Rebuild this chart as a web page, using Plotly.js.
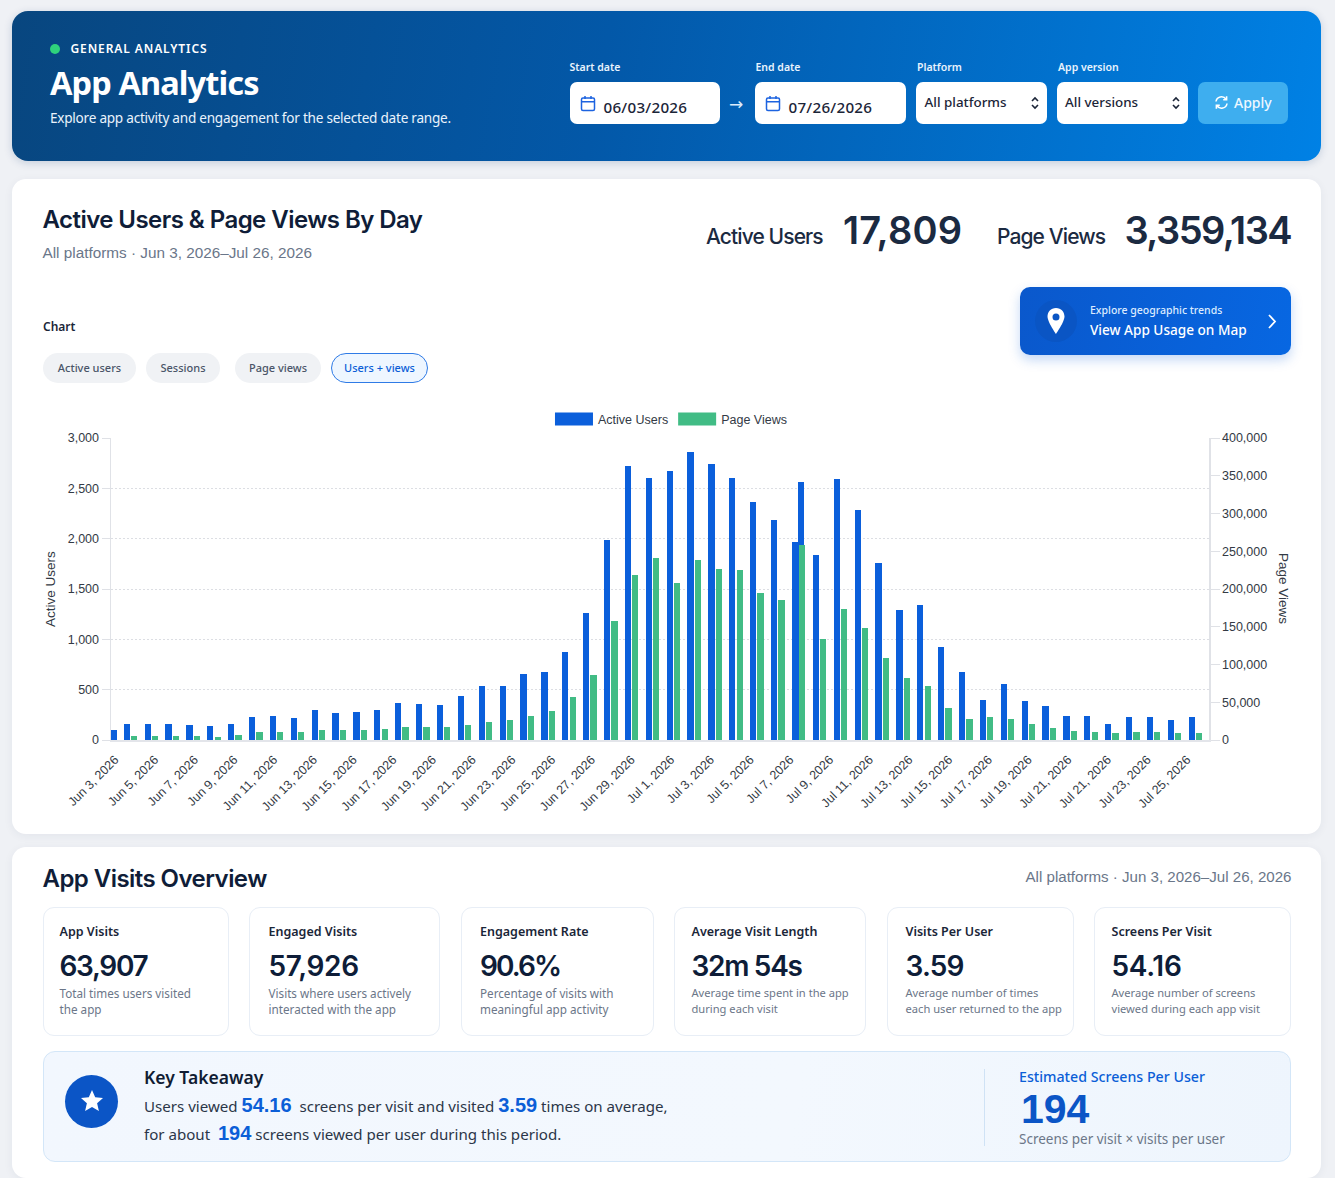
<!DOCTYPE html>
<html lang="en">
<head>
<meta charset="utf-8">
<title>App Analytics</title>
<script src="https://cdn.plot.ly/plotly-3.0.1.min.js"></script>
<style>
*{box-sizing:border-box}
html,body{margin:0;padding:0}
body{width:1335px;height:1178px;overflow:hidden;background:#eff1f5;position:relative;font-family:"Noto Sans",sans-serif;color:#10203c}
.abs,.abs-t{position:absolute;white-space:nowrap}
.abs-t{line-height:1;transform:translateY(-50%)}
.panel{position:absolute;left:12px;width:1309px;background:#fff;border-radius:14px;box-shadow:0 2px 10px rgba(30,50,90,.06)}
.hero{position:absolute;left:12px;top:11px;width:1309px;height:150px;border-radius:16px;background:linear-gradient(100deg,#08467f 0%,#0358a8 45%,#0081e5 100%);box-shadow:0 2px 8px rgba(10,50,110,.18)}
.w{color:#fff}
.fl{font-size:10.5px;font-weight:600;color:#e9f3fd}
.inp{position:absolute;top:81.5px;height:42.5px;background:#fff;border-radius:7px}
.inp-t{font-family:"Noto Sans";font-size:13.4px;color:#1b2538;font-weight:500}
.date-t{font-size:15.2px;letter-spacing:.25px}
.pill{position:absolute;top:353px;height:30px;padding-bottom:2px;border-radius:15px;background:#f0f2f5;color:#4a5568;font-size:11px;font-weight:500;display:flex;align-items:center;justify-content:center}
.pill.on{background:#eef6ff;border:1.5px solid #2f7be6;color:#0b5ed7}
.stat{position:absolute;top:907px;height:129px;border:1.5px solid #e8eef6;border-radius:11px;background:#fff}
.stat .l{position:absolute;top:15px;font-size:12.5px;font-weight:600;color:#1a2638;white-space:nowrap}
.stat .v{position:absolute;top:41px;font-family:Inter;font-size:28px;font-weight:600;color:#0e1d38;white-space:nowrap;letter-spacing:-.3px}
.stat .d{position:absolute;top:77px;font-size:11.7px;line-height:16px;color:#6b7688;white-space:nowrap}
.sans{font-family:"Liberation Sans",sans-serif}
.bl{color:#0b5ed7;font-weight:700;font-size:20px}
#chart{position:absolute;left:0;top:380px;width:1335px;height:450px}
</style>
</head>
<body>
<div class="hero"></div>
<div class="abs" style="left:50px;top:44px;width:10px;height:10px;border-radius:50%;background:#2fd27c"></div>
<div class="abs-t w" style="left:70.5px;top:49px;font-size:12px;font-weight:600;letter-spacing:.9px">GENERAL ANALYTICS</div>
<div class="abs-t w" style="left:50px;top:82.5px;font-family:'Noto Sans';font-size:32.5px;font-weight:700;letter-spacing:-.9px">App Analytics</div>
<div class="abs-t" style="left:50px;top:117.5px;font-size:13.6px;color:#eaf3fc;letter-spacing:-.25px">Explore app activity and engagement for the selected date range.</div>

<div class="abs-t fl" style="left:569.5px;top:66.5px">Start date</div>
<div class="inp" style="left:569.5px;width:150.5px"></div>
<svg class="abs" style="left:580px;top:95px" width="16" height="17" viewBox="0 0 16 17" fill="none" stroke="#1d63e0" stroke-width="1.5"><rect x="1.5" y="3" width="13" height="12.5" rx="1.5"/><path d="M1.5 6.8H14.5M5 1v3M11 1v3"/></svg>
<div class="abs-t inp-t date-t" style="left:603.5px;top:107.5px">06/03/2026</div>
<div class="abs-t" style="left:729px;top:104px;font-size:17px;color:#dcecfb;font-family:'DejaVu Sans'">→</div>
<div class="abs-t fl" style="left:755.5px;top:66.5px">End date</div>
<div class="inp" style="left:755px;width:150.5px"></div>
<svg class="abs" style="left:765px;top:95px" width="16" height="17" viewBox="0 0 16 17" fill="none" stroke="#1d63e0" stroke-width="1.5"><rect x="1.5" y="3" width="13" height="12.5" rx="1.5"/><path d="M1.5 6.8H14.5M5 1v3M11 1v3"/></svg>
<div class="abs-t inp-t date-t" style="left:788.5px;top:107.5px">07/26/2026</div>
<div class="abs-t fl" style="left:917px;top:66.5px">Platform</div>
<div class="inp" style="left:916px;width:131px"></div>
<div class="abs-t inp-t" style="left:924.5px;top:102.5px">All platforms</div>
<svg class="abs" style="left:1030px;top:96px" width="10" height="14" viewBox="0 0 10 14" fill="none" stroke="#1b2538" stroke-width="1.6"><path d="M2 5 5 2l3 3M2 9l3 3 3-3"/></svg>
<div class="abs-t fl" style="left:1058px;top:66.5px">App version</div>
<div class="inp" style="left:1056.5px;width:131.5px"></div>
<div class="abs-t inp-t" style="left:1065px;top:102.5px">All versions</div>
<svg class="abs" style="left:1171px;top:96px" width="10" height="14" viewBox="0 0 10 14" fill="none" stroke="#1b2538" stroke-width="1.6"><path d="M2 5 5 2l3 3M2 9l3 3 3-3"/></svg>
<div class="abs" style="left:1198px;top:81.5px;width:90px;height:42.5px;border-radius:7px;background:#3eaeef"></div>
<svg class="abs" style="left:1213.5px;top:95px" width="15" height="15" viewBox="0 0 15 15" fill="none" stroke="#fff" stroke-width="1.6"><path d="M2 6.5A5.5 5.5 0 0 1 12 4.2M13 8.5A5.5 5.5 0 0 1 3 10.8"/><path d="M12.6 1.3v3.4H9.2M2.4 13.7v-3.4h3.4"/></svg>
<div class="abs-t" style="left:1234px;top:102.5px;font-size:14px;font-weight:500;color:#eef8ff">Apply</div>

<div class="panel" style="top:179px;height:655px"></div>
<div class="abs-t" style="left:42.5px;top:220px;font-family:Inter;font-size:24px;font-weight:600;letter-spacing:-.55px;color:#0f1d38">Active Users &amp; Page Views By Day</div>
<div class="abs-t sans" style="left:42.5px;top:252.5px;font-size:15.3px;color:#6a7689">All platforms · Jun 3, 2026–Jul 26, 2026</div>
<div class="abs-t" style="left:706px;top:236px;font-family:Inter;font-size:21px;font-weight:500;letter-spacing:-.9px;color:#1b2a41">Active Users</div>
<div class="abs-t" style="left:843px;top:229.5px;font-family:Inter;font-size:38px;font-weight:600;letter-spacing:.2px;color:#1b2a41">17,809</div>
<div class="abs-t" style="left:997px;top:236px;font-family:Inter;font-size:21px;font-weight:500;letter-spacing:-.9px;color:#1b2a41">Page Views</div>
<div class="abs-t" style="left:1124.5px;top:229.5px;font-family:Inter;font-size:38px;font-weight:600;letter-spacing:-1.5px;color:#1b2a41">3,359,134</div>

<div class="abs" style="left:1020px;top:287px;width:271px;height:68px;border-radius:10px;background:linear-gradient(100deg,#0a58cc,#0767e2);box-shadow:0 5px 12px rgba(20,100,220,.25)"></div>
<div class="abs" style="left:1035px;top:300px;width:42px;height:42px;border-radius:50%;background:#0a55c4"></div>
<svg class="abs" style="left:1046px;top:307px" width="20" height="28" viewBox="0 0 20 28"><path fill-rule="evenodd" fill="#fff" d="M10 1C4.8 1 1.5 4.9 1.5 9.6 1.5 15 10 27 10 27s8.500-12 8.500-17.400C18.500 4.900 15.200 1 10 1Zm0 5.500a3.500 3.500 0 1 1 0 7 3.500 3.500 0 0 1 0-7Z"/></svg>
<div class="abs-t" style="left:1090px;top:309.500px;font-size:10.5px;font-weight:500;color:#dcebff">Explore geographic trends</div>
<div class="abs-t" style="left:1090px;top:329.5px;font-size:13.6px;font-weight:500;color:#fff">View App Usage on Map</div>
<svg class="abs" style="left:1266px;top:313px" width="12" height="17" viewBox="0 0 12 17" fill="none" stroke="#fff" stroke-width="1.800"><path d="M3 2l6 6.500-6 6.500"/></svg>

<div class="abs-t" style="left:43px;top:327px;font-size:12px;font-weight:600;color:#1a2638">Chart</div>
<div class="pill" style="left:43px;width:93px">Active users</div>
<div class="pill" style="left:146px;width:74px">Sessions</div>
<div class="pill" style="left:235px;width:86px">Page views</div>
<div class="pill on" style="left:331px;width:97px">Users + views</div>

<div id="chart"></div>

<div class="panel" style="top:847px;height:331px"></div>
<div class="abs-t" style="left:42.5px;top:878.500px;font-family:Inter;font-size:24px;font-weight:600;letter-spacing:-.55px;color:#0f1d38">App Visits Overview</div>
<div class="abs-t sans" style="right:43.500px;top:876.500px;font-size:15.1px;color:#6a7689">All platforms · Jun 3, 2026–Jul 26, 2026</div>

<div class="stat" style="left:43px;width:186px"><div class="l" style="left:15.500px">App Visits</div><div class="v" style="left:15.500px;letter-spacing:-1.3px">63,907</div><div class="d" style="left:15.500px">Total times users visited<br>the app</div></div>
<div class="stat" style="left:249px;width:191px"><div class="l" style="left:18.500px">Engaged Visits</div><div class="v" style="left:18.500px">57,926</div><div class="d" style="left:18.500px">Visits where users actively<br>interacted with the app</div></div>
<div class="stat" style="left:460.500px;width:193px"><div class="l" style="left:18.500px">Engagement Rate</div><div class="v" style="left:18.500px;letter-spacing:-1.9px">90.6%</div><div class="d" style="left:18.500px">Percentage of visits with<br>meaningful app activity</div></div>
<div class="stat" style="left:674px;width:192px"><div class="l" style="left:16.500px">Average Visit Length</div><div class="v" style="left:16.500px;letter-spacing:-1.3px">32m 54s</div><div class="d" style="left:16.500px;font-size:11.15px">Average time spent in the app<br>during each visit</div></div>
<div class="stat" style="left:887px;width:187px"><div class="l" style="left:17.500px">Visits Per User</div><div class="v" style="left:17.500px;letter-spacing:-.8px">3.59</div><div class="d" style="left:17.500px;font-size:11.15px">Average number of times<br>each user returned to the app</div></div>
<div class="stat" style="left:1094px;width:197px"><div class="l" style="left:16.500px">Screens Per Visit</div><div class="v" style="left:16.500px">54.16</div><div class="d" style="left:16.500px;font-size:11.15px">Average number of screens<br>viewed during each app visit</div></div>

<div class="abs" style="left:43px;top:1051px;width:1248px;height:111px;border-radius:12px;background:linear-gradient(100deg,#f2f7fe,#f3f8fe 60%,#eef5fd);border:1.500px solid #d3e6f8"></div>
<div class="abs" style="left:65px;top:1074.500px;width:53px;height:53px;border-radius:50%;background:#0b55c6"></div>
<svg class="abs" style="left:80px;top:1089px" width="24" height="23" viewBox="0 0 24 23"><path fill="#fff" d="M12 1l3.200 7.300 7.800.7-5.900 5.200 1.800 7.800L12 18l-6.900 4 1.800-7.800L1 9l7.800-.7Z"/></svg>
<div class="abs-t" style="left:144px;top:1078px;font-size:17.5px;font-weight:600;color:#101c33">Key Takeaway</div>
<div class="abs-t" style="left:144px;top:1104.500px;font-size:15.1px;color:#2b3648">Users viewed <span class="bl sans">54.16</span>&nbsp; screens per visit and visited <span class="bl sans">3.59</span> times on average,</div>
<div class="abs-t" style="left:144px;top:1132.500px;font-size:15.1px;color:#2b3648">for about &nbsp;<span class="bl sans">194</span> screens viewed per user during this period.</div>
<div class="abs" style="left:984px;top:1069px;width:1px;height:77px;background:#cfe2f5"></div>
<div class="abs-t" style="left:1019px;top:1077px;font-size:14.2px;font-weight:500;color:#0b5ed7">Estimated Screens Per User</div>
<div class="abs-t sans" style="left:1021px;top:1108.500px;font-size:41px;font-weight:700;color:#0b55c6">194</div>
<div class="abs-t" style="left:1019px;top:1139.5px;font-size:13.5px;color:#6b7688">Screens per visit × visits per user</div>

<script>
// One entry per drawn bar. The source draws an extra Active Users bar in slot 33.
const activeUserSlots = [0,1,2,3,4,5,6,7,8,9,10,11,12,13,14,15,16,17,18,19,20,21,22,23,24,25,26,27,28,29,30,31,32,33,33,34,35,36,37,38,39,40,41,42,43,44,45,46,47,48,49,50,51,52];
const activeUsers = [100,160,155,159,146,142,162,231,235,222,301,265,278,294,364,354,347,440,532,536,655,671,876,1263,1987,2718,2599,2672,2857,2741,2606,2368,2189,1968,2563,1842,2593,2285,1763,1290,1346,926,671,400,552,387,341,241,235,155,228,225,202,225];
const pageViewSlots = [1,2,3,4,5,6,7,8,9,10,11,12,13,14,15,16,17,18,19,20,21,22,23,24,25,26,27,28,29,30,31,32,33,34,35,36,37,38,39,40,41,42,43,44,45,46,47,48,49,50,51,52];
const pageViews = [5300,5300,5300,4850,4400,6200,10100,10600,10100,13200,12800,13200,14100,16800,16800,17200,19400,23400,26500,32200,37900,56900,86000,157000,218000,241000,208000,238000,227000,225000,194500,186000,258000,134000,174000,148500,109000,81600,71400,41900,27300,30000,27300,21200,15400,11500,10100,8800,10100,10100,8800,9300];
const tickLabels = ["Jun 3, 2026","Jun 5, 2026","Jun 7, 2026","Jun 9, 2026","Jun 11, 2026","Jun 13, 2026","Jun 15, 2026","Jun 17, 2026","Jun 19, 2026","Jun 21, 2026","Jun 23, 2026","Jun 25, 2026","Jun 27, 2026","Jun 29, 2026","Jul 1, 2026","Jul 3, 2026","Jul 5, 2026","Jul 7, 2026","Jul 9, 2026","Jul 11, 2026","Jul 13, 2026","Jul 15, 2026","Jul 17, 2026","Jul 19, 2026","Jul 21, 2026","Jul 21, 2026","Jul 23, 2026","Jul 25, 2026"];

const BAR_W = 0.3;
const blueOffset = activeUserSlots.map((s, i) => i === 0 ? 0.05 : i === 34 ? -0.03 : -0.325);
const tickStart = 0.26, tickStep = 1.9014;
const tickPositions = tickLabels.map((_, i) => tickStart + i * tickStep);

const axisFont = {family: '"Liberation Sans", sans-serif', size: 12.5, color: '#333a45'};
const titleFont = {family: axisFont.family, size: 13.5, color: '#333a45'};
const traces = [
  {type:'bar', name:'Active Users', x:activeUserSlots, y:activeUsers, yaxis:'y',
   width:BAR_W, offset:blueOffset, marker:{color:'#0b5fdb', line:{width:0}}},
  {type:'bar', name:'Page Views', x:pageViewSlots, y:pageViews, yaxis:'y2',
   width:BAR_W, offset:0.027, marker:{color:'#41bc85', line:{width:0}}}
];
const layout = {
  width:1335, height:450, barmode:'overlay', showlegend:true, bargap:0,
  paper_bgcolor:'rgba(0,0,0,0)', plot_bgcolor:'rgba(0,0,0,0)',
  margin:{l:110.5, r:126, t:57.7, b:90, pad:0},
  font:axisFont, hovermode:false,
  legend:{orientation:'h', x:0.51, xanchor:'center', xref:'paper', y:1.012, yanchor:'bottom', yref:'paper', itemwidth:38, font:{family:axisFont.family,size:12.5,color:'#333a45'}, traceorder:'normal', bgcolor:'rgba(0,0,0,0)', itemclick:false, itemdoubleclick:false},
  xaxis:{type:'linear', range:[0.07,52.65], tickmode:'array', tickvals:tickPositions, ticktext:tickLabels, tickangle:-45,
         ticks:'', showgrid:false, zeroline:false, showline:true, linecolor:'#e3e5ea', linewidth:1.5, tickfont:axisFont, automargin:false, ticklabelstandoff:6},
  yaxis:{range:[0,3000], tick0:0, dtick:500, tickformat:',d', ticks:'outside', ticklen:8, tickcolor:'#dfe1e6', tickwidth:1,
         showgrid:true, gridcolor:'#dcdee3', griddash:'2px,2px', gridwidth:1, zeroline:false, showline:true, linecolor:'#e0e2e7', linewidth:1.5,
         tickfont:axisFont, automargin:false,
         title:{text:'Active Users', font:titleFont, standoff:9}},
  yaxis2:{overlaying:'y', side:'right', range:[0,400000], tick0:0, dtick:50000, tickformat:',d', ticks:'outside', ticklen:9, tickcolor:'#dfe1e6', tickwidth:1,
          showgrid:false, zeroline:false, showline:true, linecolor:'#e0e2e7', linewidth:1.5, tickfont:axisFont, automargin:false},
  annotations:[{text:'Page Views', xref:'paper', yref:'paper', x:1.0683, y:0.5, textangle:90, showarrow:false, font:titleFont, xanchor:'center', yanchor:'middle'}]
};
Plotly.newPlot('chart', traces, layout, {displayModeBar:false, staticPlot:true}).then(gd => {
  gd.querySelectorAll('.legend .legendbar path, .legend .legendpoints path').forEach(p => p.setAttribute('d','M-19,-6.5H19V6.5H-19Z'));
});
</script>
</body>
</html>
